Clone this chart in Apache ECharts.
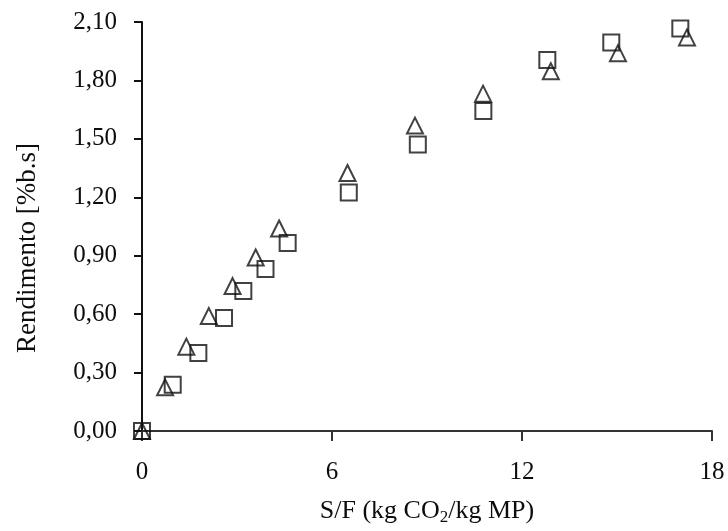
<!DOCTYPE html>
<html>
<head>
<meta charset="utf-8">
<script src="https://cdn.jsdelivr.net/npm/echarts@6/dist/echarts.min.js"></script>
<style>
  html, body { margin: 0; padding: 0; background: #fff; }
  #chart { width: 728px; height: 531px; }
</style>
</head>
<body>
<div id="chart"></div>
<script>
// Extraction yield vs. solvent-to-feed ratio, two runs
const sfSquare = [0, 0.97, 1.78, 2.59, 3.20, 3.90, 4.60, 6.53, 8.71, 10.78, 12.80, 14.82, 17.00];
const yieldSquare = [0, 0.238, 0.40, 0.58, 0.719, 0.832, 0.965, 1.225, 1.471, 1.643, 1.905, 1.995, 2.066];
const sfTriangle = [0, 0.73, 1.40, 2.11, 2.86, 3.59, 4.33, 6.49, 8.62, 10.77, 12.91, 15.03, 17.21];
const yieldTriangle = [0, 0.224, 0.433, 0.59, 0.744, 0.891, 1.04, 1.325, 1.568, 1.732, 1.847, 1.94, 2.021];
const xTicks = [0, 6, 12, 18];
const yTicks = [0, 0.3, 0.6, 0.9, 1.2, 1.5, 1.8, 2.1];
const yTitle = 'Rendimento [%b.s]';

const pair = (xs, ys) => xs.map((x, i) => [x, ys[i]]);
const FONT = '"Liberation Serif", "DejaVu Serif", serif';
const INK = '#0d0d0d';

const chart = echarts.init(document.getElementById('chart'), null, { renderer: 'canvas' });
chart.setOption({
  animation: false,
  backgroundColor: '#ffffff',
  grid: { left: 142, right: 16, top: 22, bottom: 97, containLabel: false },
  xAxis: {
    type: 'value',
    min: xTicks[0],
    max: xTicks[xTicks.length - 1],
    interval: xTicks[1] - xTicks[0],
    name: '{a|S/F (kg CO}{s|2}{a|/kg MP)}',
    nameLocation: 'middle',
    nameGap: 66,
    nameTextStyle: {
      rich: {
        a: { fontFamily: FONT, fontSize: 26, color: INK },
        s: { fontFamily: FONT, fontSize: 17, color: INK, padding: [12, 0, 0, 0] }
      }
    },
    axisLine: { show: true, onZero: false, lineStyle: { color: '#333', width: 2 } },
    axisTick: { show: true, inside: false, length: 10, lineStyle: { color: '#333', width: 2 } },
    axisLabel: { fontFamily: FONT, fontSize: 25, color: INK, margin: 29 },
    splitLine: { show: false }
  },
  yAxis: {
    type: 'value',
    min: yTicks[0],
    max: yTicks[yTicks.length - 1],
    interval: 0.3,
    axisLine: { show: true, onZero: false, lineStyle: { color: '#111', width: 2 } },
    axisTick: { show: true, inside: false, length: 8, lineStyle: { color: '#111', width: 2 } },
    axisLabel: {
      fontFamily: FONT, fontSize: 25, color: INK, margin: 25,
      formatter: v => v.toFixed(2).replace('.', ',')
    },
    splitLine: { show: false }
  },
  graphic: [{
    type: 'text',
    x: 28,
    y: 248,
    rotation: Math.PI / 2,
    style: {
      text: yTitle,
      font: '27px ' + FONT,
      fill: INK,
      textAlign: 'center',
      textVerticalAlign: 'middle'
    }
  }],
  series: [
    {
      type: 'scatter',
      data: pair(sfTriangle, yieldTriangle),
      symbol: 'triangle',
      symbolSize: [16, 16],
      clip: false,
      itemStyle: { color: 'rgba(0,0,0,0)', borderColor: '#111', borderWidth: 2 }
    },
    {
      type: 'scatter',
      data: pair(sfSquare, yieldSquare),
      symbol: 'rect',
      symbolSize: 16,
      clip: false,
      itemStyle: { color: 'rgba(0,0,0,0)', borderColor: '#111', borderWidth: 2 }
    }
  ]
});
</script>
</body>
</html>
